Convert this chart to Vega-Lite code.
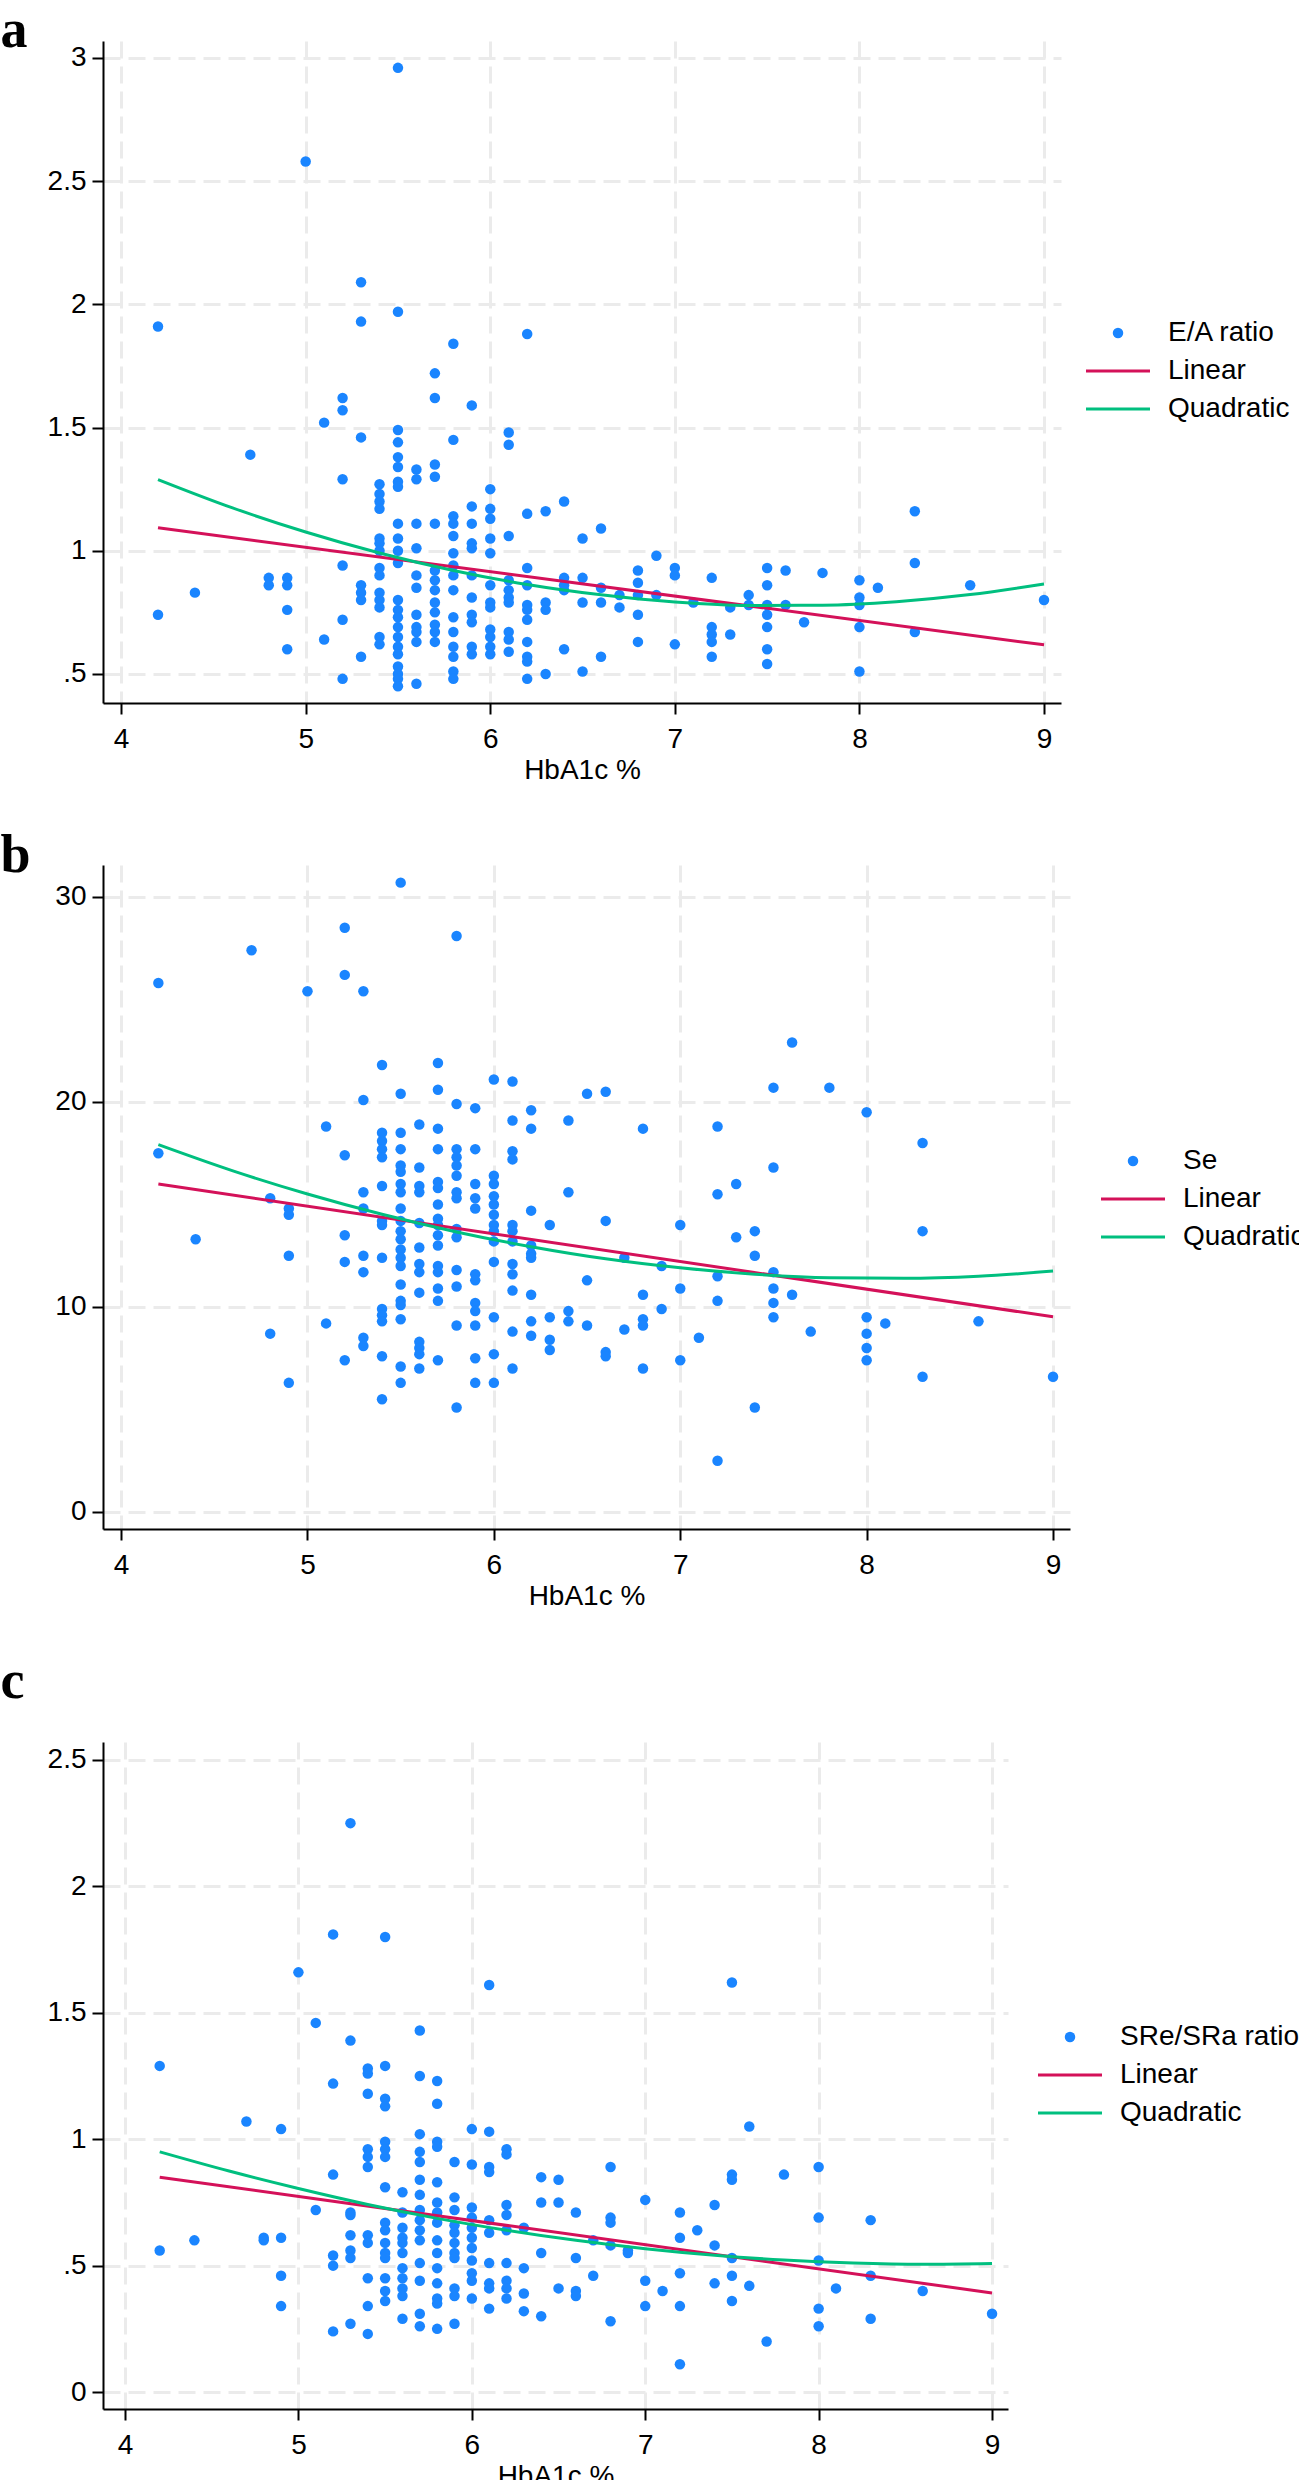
{
"$schema": "https://vega.github.io/schema/vega-lite/v6.json",
"padding": {"top": 3, "left": 0, "right": 0, "bottom": 0},
"background": "white",
"spacing": 44,
"datasets": {
"a": [
{"hba1c":4.2,"val":1.91,"series":"E/A ratio"},{"hba1c":4.2,"val":0.74,"series":"E/A ratio"},
{"hba1c":4.4,"val":0.83,"series":"E/A ratio"},
{"hba1c":4.7,"val":1.39,"series":"E/A ratio"},
{"hba1c":4.8,"val":0.89,"series":"E/A ratio"},{"hba1c":4.8,"val":0.86,"series":"E/A ratio"},
{"hba1c":4.9,"val":0.89,"series":"E/A ratio"},{"hba1c":4.9,"val":0.86,"series":"E/A ratio"},{"hba1c":4.9,"val":0.76,"series":"E/A ratio"},{"hba1c":4.9,"val":0.60,"series":"E/A ratio"},
{"hba1c":5.0,"val":2.58,"series":"E/A ratio"},
{"hba1c":5.1,"val":1.52,"series":"E/A ratio"},{"hba1c":5.1,"val":0.64,"series":"E/A ratio"},
{"hba1c":5.2,"val":1.62,"series":"E/A ratio"},{"hba1c":5.2,"val":1.57,"series":"E/A ratio"},{"hba1c":5.2,"val":1.29,"series":"E/A ratio"},{"hba1c":5.2,"val":0.94,"series":"E/A ratio"},{"hba1c":5.2,"val":0.72,"series":"E/A ratio"},{"hba1c":5.2,"val":0.48,"series":"E/A ratio"},
{"hba1c":5.3,"val":2.09,"series":"E/A ratio"},{"hba1c":5.3,"val":1.93,"series":"E/A ratio"},{"hba1c":5.3,"val":1.46,"series":"E/A ratio"},{"hba1c":5.3,"val":0.86,"series":"E/A ratio"},{"hba1c":5.3,"val":0.83,"series":"E/A ratio"},{"hba1c":5.3,"val":0.80,"series":"E/A ratio"},{"hba1c":5.3,"val":0.57,"series":"E/A ratio"},
{"hba1c":5.4,"val":1.27,"series":"E/A ratio"},{"hba1c":5.4,"val":1.23,"series":"E/A ratio"},{"hba1c":5.4,"val":1.20,"series":"E/A ratio"},{"hba1c":5.4,"val":1.17,"series":"E/A ratio"},{"hba1c":5.4,"val":1.05,"series":"E/A ratio"},{"hba1c":5.4,"val":1.03,"series":"E/A ratio"},{"hba1c":5.4,"val":1.00,"series":"E/A ratio"},{"hba1c":5.4,"val":0.93,"series":"E/A ratio"},{"hba1c":5.4,"val":0.90,"series":"E/A ratio"},{"hba1c":5.4,"val":0.83,"series":"E/A ratio"},{"hba1c":5.4,"val":0.80,"series":"E/A ratio"},{"hba1c":5.4,"val":0.77,"series":"E/A ratio"},{"hba1c":5.4,"val":0.65,"series":"E/A ratio"},{"hba1c":5.4,"val":0.62,"series":"E/A ratio"},
{"hba1c":5.5,"val":2.96,"series":"E/A ratio"},{"hba1c":5.5,"val":1.97,"series":"E/A ratio"},{"hba1c":5.5,"val":1.49,"series":"E/A ratio"},{"hba1c":5.5,"val":1.44,"series":"E/A ratio"},{"hba1c":5.5,"val":1.38,"series":"E/A ratio"},{"hba1c":5.5,"val":1.34,"series":"E/A ratio"},{"hba1c":5.5,"val":1.28,"series":"E/A ratio"},{"hba1c":5.5,"val":1.26,"series":"E/A ratio"},{"hba1c":5.5,"val":1.11,"series":"E/A ratio"},{"hba1c":5.5,"val":1.05,"series":"E/A ratio"},{"hba1c":5.5,"val":1.00,"series":"E/A ratio"},{"hba1c":5.5,"val":0.95,"series":"E/A ratio"},{"hba1c":5.5,"val":0.80,"series":"E/A ratio"},{"hba1c":5.5,"val":0.76,"series":"E/A ratio"},{"hba1c":5.5,"val":0.73,"series":"E/A ratio"},{"hba1c":5.5,"val":0.69,"series":"E/A ratio"},{"hba1c":5.5,"val":0.65,"series":"E/A ratio"},{"hba1c":5.5,"val":0.61,"series":"E/A ratio"},{"hba1c":5.5,"val":0.58,"series":"E/A ratio"},{"hba1c":5.5,"val":0.53,"series":"E/A ratio"},{"hba1c":5.5,"val":0.50,"series":"E/A ratio"},{"hba1c":5.5,"val":0.48,"series":"E/A ratio"},{"hba1c":5.5,"val":0.45,"series":"E/A ratio"},
{"hba1c":5.6,"val":1.33,"series":"E/A ratio"},{"hba1c":5.6,"val":1.29,"series":"E/A ratio"},{"hba1c":5.6,"val":1.11,"series":"E/A ratio"},{"hba1c":5.6,"val":1.01,"series":"E/A ratio"},{"hba1c":5.6,"val":0.90,"series":"E/A ratio"},{"hba1c":5.6,"val":0.85,"series":"E/A ratio"},{"hba1c":5.6,"val":0.74,"series":"E/A ratio"},{"hba1c":5.6,"val":0.69,"series":"E/A ratio"},{"hba1c":5.6,"val":0.67,"series":"E/A ratio"},{"hba1c":5.6,"val":0.63,"series":"E/A ratio"},{"hba1c":5.6,"val":0.46,"series":"E/A ratio"},
{"hba1c":5.7,"val":1.72,"series":"E/A ratio"},{"hba1c":5.7,"val":1.62,"series":"E/A ratio"},{"hba1c":5.7,"val":1.35,"series":"E/A ratio"},{"hba1c":5.7,"val":1.30,"series":"E/A ratio"},{"hba1c":5.7,"val":1.11,"series":"E/A ratio"},{"hba1c":5.7,"val":0.92,"series":"E/A ratio"},{"hba1c":5.7,"val":0.88,"series":"E/A ratio"},{"hba1c":5.7,"val":0.84,"series":"E/A ratio"},{"hba1c":5.7,"val":0.79,"series":"E/A ratio"},{"hba1c":5.7,"val":0.75,"series":"E/A ratio"},{"hba1c":5.7,"val":0.70,"series":"E/A ratio"},{"hba1c":5.7,"val":0.67,"series":"E/A ratio"},{"hba1c":5.7,"val":0.63,"series":"E/A ratio"},
{"hba1c":5.8,"val":1.84,"series":"E/A ratio"},{"hba1c":5.8,"val":1.45,"series":"E/A ratio"},{"hba1c":5.8,"val":1.14,"series":"E/A ratio"},{"hba1c":5.8,"val":1.11,"series":"E/A ratio"},{"hba1c":5.8,"val":1.06,"series":"E/A ratio"},{"hba1c":5.8,"val":0.99,"series":"E/A ratio"},{"hba1c":5.8,"val":0.94,"series":"E/A ratio"},{"hba1c":5.8,"val":0.90,"series":"E/A ratio"},{"hba1c":5.8,"val":0.84,"series":"E/A ratio"},{"hba1c":5.8,"val":0.73,"series":"E/A ratio"},{"hba1c":5.8,"val":0.67,"series":"E/A ratio"},{"hba1c":5.8,"val":0.61,"series":"E/A ratio"},{"hba1c":5.8,"val":0.57,"series":"E/A ratio"},{"hba1c":5.8,"val":0.51,"series":"E/A ratio"},{"hba1c":5.8,"val":0.48,"series":"E/A ratio"},
{"hba1c":5.9,"val":1.59,"series":"E/A ratio"},{"hba1c":5.9,"val":1.18,"series":"E/A ratio"},{"hba1c":5.9,"val":1.11,"series":"E/A ratio"},{"hba1c":5.9,"val":1.03,"series":"E/A ratio"},{"hba1c":5.9,"val":1.01,"series":"E/A ratio"},{"hba1c":5.9,"val":0.90,"series":"E/A ratio"},{"hba1c":5.9,"val":0.81,"series":"E/A ratio"},{"hba1c":5.9,"val":0.74,"series":"E/A ratio"},{"hba1c":5.9,"val":0.71,"series":"E/A ratio"},{"hba1c":5.9,"val":0.61,"series":"E/A ratio"},{"hba1c":5.9,"val":0.58,"series":"E/A ratio"},
{"hba1c":6.0,"val":1.25,"series":"E/A ratio"},{"hba1c":6.0,"val":1.17,"series":"E/A ratio"},{"hba1c":6.0,"val":1.13,"series":"E/A ratio"},{"hba1c":6.0,"val":1.05,"series":"E/A ratio"},{"hba1c":6.0,"val":0.99,"series":"E/A ratio"},{"hba1c":6.0,"val":0.86,"series":"E/A ratio"},{"hba1c":6.0,"val":0.79,"series":"E/A ratio"},{"hba1c":6.0,"val":0.77,"series":"E/A ratio"},{"hba1c":6.0,"val":0.68,"series":"E/A ratio"},{"hba1c":6.0,"val":0.65,"series":"E/A ratio"},{"hba1c":6.0,"val":0.61,"series":"E/A ratio"},{"hba1c":6.0,"val":0.58,"series":"E/A ratio"},
{"hba1c":6.1,"val":1.48,"series":"E/A ratio"},{"hba1c":6.1,"val":1.43,"series":"E/A ratio"},{"hba1c":6.1,"val":1.06,"series":"E/A ratio"},{"hba1c":6.1,"val":0.88,"series":"E/A ratio"},{"hba1c":6.1,"val":0.84,"series":"E/A ratio"},{"hba1c":6.1,"val":0.81,"series":"E/A ratio"},{"hba1c":6.1,"val":0.79,"series":"E/A ratio"},{"hba1c":6.1,"val":0.67,"series":"E/A ratio"},{"hba1c":6.1,"val":0.64,"series":"E/A ratio"},{"hba1c":6.1,"val":0.59,"series":"E/A ratio"},
{"hba1c":6.2,"val":1.88,"series":"E/A ratio"},{"hba1c":6.2,"val":1.15,"series":"E/A ratio"},{"hba1c":6.2,"val":0.93,"series":"E/A ratio"},{"hba1c":6.2,"val":0.86,"series":"E/A ratio"},{"hba1c":6.2,"val":0.78,"series":"E/A ratio"},{"hba1c":6.2,"val":0.76,"series":"E/A ratio"},{"hba1c":6.2,"val":0.72,"series":"E/A ratio"},{"hba1c":6.2,"val":0.63,"series":"E/A ratio"},{"hba1c":6.2,"val":0.57,"series":"E/A ratio"},{"hba1c":6.2,"val":0.55,"series":"E/A ratio"},{"hba1c":6.2,"val":0.48,"series":"E/A ratio"},
{"hba1c":6.3,"val":1.16,"series":"E/A ratio"},{"hba1c":6.3,"val":0.79,"series":"E/A ratio"},{"hba1c":6.3,"val":0.76,"series":"E/A ratio"},{"hba1c":6.3,"val":0.50,"series":"E/A ratio"},
{"hba1c":6.4,"val":1.20,"series":"E/A ratio"},{"hba1c":6.4,"val":0.89,"series":"E/A ratio"},{"hba1c":6.4,"val":0.86,"series":"E/A ratio"},{"hba1c":6.4,"val":0.84,"series":"E/A ratio"},{"hba1c":6.4,"val":0.60,"series":"E/A ratio"},
{"hba1c":6.5,"val":1.05,"series":"E/A ratio"},{"hba1c":6.5,"val":0.89,"series":"E/A ratio"},{"hba1c":6.5,"val":0.79,"series":"E/A ratio"},{"hba1c":6.5,"val":0.51,"series":"E/A ratio"},
{"hba1c":6.6,"val":1.09,"series":"E/A ratio"},{"hba1c":6.6,"val":0.85,"series":"E/A ratio"},{"hba1c":6.6,"val":0.79,"series":"E/A ratio"},{"hba1c":6.6,"val":0.57,"series":"E/A ratio"},
{"hba1c":6.7,"val":0.82,"series":"E/A ratio"},{"hba1c":6.7,"val":0.77,"series":"E/A ratio"},
{"hba1c":6.8,"val":0.92,"series":"E/A ratio"},{"hba1c":6.8,"val":0.87,"series":"E/A ratio"},{"hba1c":6.8,"val":0.82,"series":"E/A ratio"},{"hba1c":6.8,"val":0.74,"series":"E/A ratio"},{"hba1c":6.8,"val":0.63,"series":"E/A ratio"},
{"hba1c":6.9,"val":0.98,"series":"E/A ratio"},{"hba1c":6.9,"val":0.82,"series":"E/A ratio"},
{"hba1c":7.0,"val":0.93,"series":"E/A ratio"},{"hba1c":7.0,"val":0.90,"series":"E/A ratio"},{"hba1c":7.0,"val":0.62,"series":"E/A ratio"},
{"hba1c":7.1,"val":0.79,"series":"E/A ratio"},
{"hba1c":7.2,"val":0.89,"series":"E/A ratio"},{"hba1c":7.2,"val":0.69,"series":"E/A ratio"},{"hba1c":7.2,"val":0.66,"series":"E/A ratio"},{"hba1c":7.2,"val":0.63,"series":"E/A ratio"},{"hba1c":7.2,"val":0.57,"series":"E/A ratio"},
{"hba1c":7.3,"val":0.77,"series":"E/A ratio"},{"hba1c":7.3,"val":0.66,"series":"E/A ratio"},
{"hba1c":7.4,"val":0.82,"series":"E/A ratio"},{"hba1c":7.4,"val":0.78,"series":"E/A ratio"},
{"hba1c":7.5,"val":0.93,"series":"E/A ratio"},{"hba1c":7.5,"val":0.86,"series":"E/A ratio"},{"hba1c":7.5,"val":0.78,"series":"E/A ratio"},{"hba1c":7.5,"val":0.74,"series":"E/A ratio"},{"hba1c":7.5,"val":0.69,"series":"E/A ratio"},{"hba1c":7.5,"val":0.60,"series":"E/A ratio"},{"hba1c":7.5,"val":0.54,"series":"E/A ratio"},
{"hba1c":7.6,"val":0.92,"series":"E/A ratio"},{"hba1c":7.6,"val":0.78,"series":"E/A ratio"},
{"hba1c":7.7,"val":0.71,"series":"E/A ratio"},
{"hba1c":7.8,"val":0.91,"series":"E/A ratio"},
{"hba1c":8.0,"val":0.88,"series":"E/A ratio"},{"hba1c":8.0,"val":0.81,"series":"E/A ratio"},{"hba1c":8.0,"val":0.78,"series":"E/A ratio"},{"hba1c":8.0,"val":0.69,"series":"E/A ratio"},{"hba1c":8.0,"val":0.51,"series":"E/A ratio"},
{"hba1c":8.1,"val":0.85,"series":"E/A ratio"},
{"hba1c":8.3,"val":1.16,"series":"E/A ratio"},{"hba1c":8.3,"val":0.95,"series":"E/A ratio"},{"hba1c":8.3,"val":0.67,"series":"E/A ratio"},
{"hba1c":8.6,"val":0.86,"series":"E/A ratio"},
{"hba1c":9.0,"val":0.80,"series":"E/A ratio"},
{"hba1c":4.2,"val":1.093,"series":"Linear"},{"hba1c":9.0,"val":0.618,"series":"Linear"},
{"hba1c":4.2,"val":1.289,"series":"Quadratic"},{"hba1c":4.6,"val":1.175,"series":"Quadratic"},{"hba1c":5.0,"val":1.076,"series":"Quadratic"},{"hba1c":5.4,"val":0.991,"series":"Quadratic"},{"hba1c":5.8,"val":0.920,"series":"Quadratic"},{"hba1c":6.2,"val":0.863,"series":"Quadratic"},{"hba1c":6.6,"val":0.821,"series":"Quadratic"},{"hba1c":7.0,"val":0.792,"series":"Quadratic"},{"hba1c":7.4,"val":0.778,"series":"Quadratic"},{"hba1c":7.8,"val":0.779,"series":"Quadratic"},{"hba1c":8.2,"val":0.793,"series":"Quadratic"},{"hba1c":8.6,"val":0.822,"series":"Quadratic"},{"hba1c":9.0,"val":0.865,"series":"Quadratic"}
],
"b": [
{"hba1c":4.2,"val":25.8,"series":"Se"},{"hba1c":4.2,"val":17.5,"series":"Se"},
{"hba1c":4.4,"val":13.3,"series":"Se"},
{"hba1c":4.7,"val":27.4,"series":"Se"},
{"hba1c":4.8,"val":15.3,"series":"Se"},{"hba1c":4.8,"val":8.7,"series":"Se"},
{"hba1c":4.9,"val":14.8,"series":"Se"},{"hba1c":4.9,"val":14.5,"series":"Se"},{"hba1c":4.9,"val":12.5,"series":"Se"},{"hba1c":4.9,"val":6.3,"series":"Se"},
{"hba1c":5.0,"val":25.4,"series":"Se"},
{"hba1c":5.1,"val":18.8,"series":"Se"},{"hba1c":5.1,"val":9.2,"series":"Se"},
{"hba1c":5.2,"val":28.5,"series":"Se"},{"hba1c":5.2,"val":26.2,"series":"Se"},{"hba1c":5.2,"val":17.4,"series":"Se"},{"hba1c":5.2,"val":13.5,"series":"Se"},{"hba1c":5.2,"val":12.2,"series":"Se"},{"hba1c":5.2,"val":7.4,"series":"Se"},
{"hba1c":5.3,"val":25.4,"series":"Se"},{"hba1c":5.3,"val":20.1,"series":"Se"},{"hba1c":5.3,"val":15.6,"series":"Se"},{"hba1c":5.3,"val":14.8,"series":"Se"},{"hba1c":5.3,"val":12.5,"series":"Se"},{"hba1c":5.3,"val":11.7,"series":"Se"},{"hba1c":5.3,"val":8.5,"series":"Se"},{"hba1c":5.3,"val":8.1,"series":"Se"},
{"hba1c":5.4,"val":21.8,"series":"Se"},{"hba1c":5.4,"val":18.5,"series":"Se"},{"hba1c":5.4,"val":18.1,"series":"Se"},{"hba1c":5.4,"val":17.7,"series":"Se"},{"hba1c":5.4,"val":17.3,"series":"Se"},{"hba1c":5.4,"val":15.9,"series":"Se"},{"hba1c":5.4,"val":14.2,"series":"Se"},{"hba1c":5.4,"val":14.0,"series":"Se"},{"hba1c":5.4,"val":12.4,"series":"Se"},{"hba1c":5.4,"val":9.9,"series":"Se"},{"hba1c":5.4,"val":9.6,"series":"Se"},{"hba1c":5.4,"val":9.3,"series":"Se"},{"hba1c":5.4,"val":7.6,"series":"Se"},{"hba1c":5.4,"val":5.5,"series":"Se"},
{"hba1c":5.5,"val":30.7,"series":"Se"},{"hba1c":5.5,"val":20.4,"series":"Se"},{"hba1c":5.5,"val":18.5,"series":"Se"},{"hba1c":5.5,"val":17.7,"series":"Se"},{"hba1c":5.5,"val":16.9,"series":"Se"},{"hba1c":5.5,"val":16.6,"series":"Se"},{"hba1c":5.5,"val":16.0,"series":"Se"},{"hba1c":5.5,"val":15.6,"series":"Se"},{"hba1c":5.5,"val":14.8,"series":"Se"},{"hba1c":5.5,"val":14.2,"series":"Se"},{"hba1c":5.5,"val":13.7,"series":"Se"},{"hba1c":5.5,"val":13.3,"series":"Se"},{"hba1c":5.5,"val":12.8,"series":"Se"},{"hba1c":5.5,"val":12.4,"series":"Se"},{"hba1c":5.5,"val":12.0,"series":"Se"},{"hba1c":5.5,"val":11.1,"series":"Se"},{"hba1c":5.5,"val":10.3,"series":"Se"},{"hba1c":5.5,"val":10.1,"series":"Se"},{"hba1c":5.5,"val":9.4,"series":"Se"},{"hba1c":5.5,"val":7.1,"series":"Se"},{"hba1c":5.5,"val":6.3,"series":"Se"},
{"hba1c":5.6,"val":18.9,"series":"Se"},{"hba1c":5.6,"val":16.8,"series":"Se"},{"hba1c":5.6,"val":15.9,"series":"Se"},{"hba1c":5.6,"val":15.6,"series":"Se"},{"hba1c":5.6,"val":14.1,"series":"Se"},{"hba1c":5.6,"val":12.9,"series":"Se"},{"hba1c":5.6,"val":12.1,"series":"Se"},{"hba1c":5.6,"val":11.7,"series":"Se"},{"hba1c":5.6,"val":10.7,"series":"Se"},{"hba1c":5.6,"val":8.3,"series":"Se"},{"hba1c":5.6,"val":8.0,"series":"Se"},{"hba1c":5.6,"val":7.7,"series":"Se"},{"hba1c":5.6,"val":7.0,"series":"Se"},
{"hba1c":5.7,"val":21.9,"series":"Se"},{"hba1c":5.7,"val":20.6,"series":"Se"},{"hba1c":5.7,"val":18.7,"series":"Se"},{"hba1c":5.7,"val":17.7,"series":"Se"},{"hba1c":5.7,"val":16.1,"series":"Se"},{"hba1c":5.7,"val":15.8,"series":"Se"},{"hba1c":5.7,"val":15.0,"series":"Se"},{"hba1c":5.7,"val":14.3,"series":"Se"},{"hba1c":5.7,"val":14.0,"series":"Se"},{"hba1c":5.7,"val":13.5,"series":"Se"},{"hba1c":5.7,"val":13.0,"series":"Se"},{"hba1c":5.7,"val":12.0,"series":"Se"},{"hba1c":5.7,"val":11.7,"series":"Se"},{"hba1c":5.7,"val":10.9,"series":"Se"},{"hba1c":5.7,"val":10.3,"series":"Se"},{"hba1c":5.7,"val":7.4,"series":"Se"},
{"hba1c":5.8,"val":28.1,"series":"Se"},{"hba1c":5.8,"val":19.9,"series":"Se"},{"hba1c":5.8,"val":17.7,"series":"Se"},{"hba1c":5.8,"val":17.3,"series":"Se"},{"hba1c":5.8,"val":16.9,"series":"Se"},{"hba1c":5.8,"val":16.4,"series":"Se"},{"hba1c":5.8,"val":15.6,"series":"Se"},{"hba1c":5.8,"val":15.3,"series":"Se"},{"hba1c":5.8,"val":13.8,"series":"Se"},{"hba1c":5.8,"val":13.4,"series":"Se"},{"hba1c":5.8,"val":11.8,"series":"Se"},{"hba1c":5.8,"val":11.0,"series":"Se"},{"hba1c":5.8,"val":9.1,"series":"Se"},{"hba1c":5.8,"val":5.1,"series":"Se"},
{"hba1c":5.9,"val":19.7,"series":"Se"},{"hba1c":5.9,"val":17.7,"series":"Se"},{"hba1c":5.9,"val":16.0,"series":"Se"},{"hba1c":5.9,"val":15.3,"series":"Se"},{"hba1c":5.9,"val":14.8,"series":"Se"},{"hba1c":5.9,"val":11.6,"series":"Se"},{"hba1c":5.9,"val":11.3,"series":"Se"},{"hba1c":5.9,"val":10.2,"series":"Se"},{"hba1c":5.9,"val":9.8,"series":"Se"},{"hba1c":5.9,"val":9.1,"series":"Se"},{"hba1c":5.9,"val":7.5,"series":"Se"},{"hba1c":5.9,"val":6.3,"series":"Se"},
{"hba1c":6.0,"val":21.1,"series":"Se"},{"hba1c":6.0,"val":16.4,"series":"Se"},{"hba1c":6.0,"val":16.0,"series":"Se"},{"hba1c":6.0,"val":15.4,"series":"Se"},{"hba1c":6.0,"val":15.0,"series":"Se"},{"hba1c":6.0,"val":14.5,"series":"Se"},{"hba1c":6.0,"val":14.0,"series":"Se"},{"hba1c":6.0,"val":13.7,"series":"Se"},{"hba1c":6.0,"val":13.2,"series":"Se"},{"hba1c":6.0,"val":12.2,"series":"Se"},{"hba1c":6.0,"val":9.5,"series":"Se"},{"hba1c":6.0,"val":7.7,"series":"Se"},{"hba1c":6.0,"val":6.3,"series":"Se"},
{"hba1c":6.1,"val":21.0,"series":"Se"},{"hba1c":6.1,"val":19.1,"series":"Se"},{"hba1c":6.1,"val":17.6,"series":"Se"},{"hba1c":6.1,"val":17.2,"series":"Se"},{"hba1c":6.1,"val":14.0,"series":"Se"},{"hba1c":6.1,"val":13.7,"series":"Se"},{"hba1c":6.1,"val":13.2,"series":"Se"},{"hba1c":6.1,"val":12.1,"series":"Se"},{"hba1c":6.1,"val":11.6,"series":"Se"},{"hba1c":6.1,"val":10.8,"series":"Se"},{"hba1c":6.1,"val":8.8,"series":"Se"},{"hba1c":6.1,"val":7.0,"series":"Se"},
{"hba1c":6.2,"val":19.6,"series":"Se"},{"hba1c":6.2,"val":18.7,"series":"Se"},{"hba1c":6.2,"val":14.7,"series":"Se"},{"hba1c":6.2,"val":13.0,"series":"Se"},{"hba1c":6.2,"val":12.6,"series":"Se"},{"hba1c":6.2,"val":12.4,"series":"Se"},{"hba1c":6.2,"val":10.6,"series":"Se"},{"hba1c":6.2,"val":9.3,"series":"Se"},{"hba1c":6.2,"val":8.6,"series":"Se"},
{"hba1c":6.3,"val":14.0,"series":"Se"},{"hba1c":6.3,"val":9.5,"series":"Se"},{"hba1c":6.3,"val":8.4,"series":"Se"},{"hba1c":6.3,"val":7.9,"series":"Se"},
{"hba1c":6.4,"val":19.1,"series":"Se"},{"hba1c":6.4,"val":15.6,"series":"Se"},{"hba1c":6.4,"val":9.8,"series":"Se"},{"hba1c":6.4,"val":9.3,"series":"Se"},
{"hba1c":6.5,"val":20.4,"series":"Se"},{"hba1c":6.5,"val":11.3,"series":"Se"},{"hba1c":6.5,"val":9.1,"series":"Se"},
{"hba1c":6.6,"val":20.5,"series":"Se"},{"hba1c":6.6,"val":14.2,"series":"Se"},{"hba1c":6.6,"val":7.8,"series":"Se"},{"hba1c":6.6,"val":7.6,"series":"Se"},
{"hba1c":6.7,"val":12.4,"series":"Se"},{"hba1c":6.7,"val":8.9,"series":"Se"},
{"hba1c":6.8,"val":18.7,"series":"Se"},{"hba1c":6.8,"val":10.6,"series":"Se"},{"hba1c":6.8,"val":9.4,"series":"Se"},{"hba1c":6.8,"val":9.1,"series":"Se"},{"hba1c":6.8,"val":7.0,"series":"Se"},
{"hba1c":6.9,"val":12.0,"series":"Se"},{"hba1c":6.9,"val":9.9,"series":"Se"},
{"hba1c":7.0,"val":14.0,"series":"Se"},{"hba1c":7.0,"val":10.9,"series":"Se"},{"hba1c":7.0,"val":7.4,"series":"Se"},
{"hba1c":7.1,"val":8.5,"series":"Se"},
{"hba1c":7.2,"val":18.8,"series":"Se"},{"hba1c":7.2,"val":15.5,"series":"Se"},{"hba1c":7.2,"val":11.5,"series":"Se"},{"hba1c":7.2,"val":10.3,"series":"Se"},{"hba1c":7.2,"val":2.5,"series":"Se"},
{"hba1c":7.3,"val":16.0,"series":"Se"},{"hba1c":7.3,"val":13.4,"series":"Se"},
{"hba1c":7.4,"val":13.7,"series":"Se"},{"hba1c":7.4,"val":12.5,"series":"Se"},{"hba1c":7.4,"val":5.1,"series":"Se"},
{"hba1c":7.5,"val":20.7,"series":"Se"},{"hba1c":7.5,"val":16.8,"series":"Se"},{"hba1c":7.5,"val":11.7,"series":"Se"},{"hba1c":7.5,"val":10.9,"series":"Se"},{"hba1c":7.5,"val":10.2,"series":"Se"},{"hba1c":7.5,"val":9.5,"series":"Se"},
{"hba1c":7.6,"val":22.9,"series":"Se"},{"hba1c":7.6,"val":10.6,"series":"Se"},
{"hba1c":7.7,"val":8.8,"series":"Se"},
{"hba1c":7.8,"val":20.7,"series":"Se"},
{"hba1c":8.0,"val":19.5,"series":"Se"},{"hba1c":8.0,"val":9.5,"series":"Se"},{"hba1c":8.0,"val":8.7,"series":"Se"},{"hba1c":8.0,"val":8.0,"series":"Se"},{"hba1c":8.0,"val":7.4,"series":"Se"},
{"hba1c":8.1,"val":9.2,"series":"Se"},
{"hba1c":8.3,"val":18.0,"series":"Se"},{"hba1c":8.3,"val":13.7,"series":"Se"},{"hba1c":8.3,"val":6.6,"series":"Se"},
{"hba1c":8.6,"val":9.3,"series":"Se"},
{"hba1c":9.0,"val":6.6,"series":"Se"},
{"hba1c":4.2,"val":16.0,"series":"Linear"},{"hba1c":9.0,"val":9.52,"series":"Linear"},
{"hba1c":4.2,"val":17.92,"series":"Quadratic"},{"hba1c":4.6,"val":16.64,"series":"Quadratic"},{"hba1c":5.0,"val":15.51,"series":"Quadratic"},{"hba1c":5.4,"val":14.52,"series":"Quadratic"},{"hba1c":5.8,"val":13.66,"series":"Quadratic"},{"hba1c":6.2,"val":12.94,"series":"Quadratic"},{"hba1c":6.6,"val":12.35,"series":"Quadratic"},{"hba1c":7.0,"val":11.91,"series":"Quadratic"},{"hba1c":7.4,"val":11.60,"series":"Quadratic"},{"hba1c":7.8,"val":11.43,"series":"Quadratic"},{"hba1c":8.2,"val":11.40,"series":"Quadratic"},{"hba1c":8.6,"val":11.50,"series":"Quadratic"},{"hba1c":9.0,"val":11.75,"series":"Quadratic"}
],
"c": [
{"hba1c":4.2,"val":1.29,"series":"SRe/SRa ratio"},{"hba1c":4.2,"val":0.56,"series":"SRe/SRa ratio"},
{"hba1c":4.4,"val":0.60,"series":"SRe/SRa ratio"},
{"hba1c":4.7,"val":1.07,"series":"SRe/SRa ratio"},
{"hba1c":4.8,"val":0.61,"series":"SRe/SRa ratio"},{"hba1c":4.8,"val":0.60,"series":"SRe/SRa ratio"},
{"hba1c":4.9,"val":1.04,"series":"SRe/SRa ratio"},{"hba1c":4.9,"val":0.61,"series":"SRe/SRa ratio"},{"hba1c":4.9,"val":0.46,"series":"SRe/SRa ratio"},{"hba1c":4.9,"val":0.34,"series":"SRe/SRa ratio"},
{"hba1c":5.0,"val":1.66,"series":"SRe/SRa ratio"},
{"hba1c":5.1,"val":1.46,"series":"SRe/SRa ratio"},{"hba1c":5.1,"val":0.72,"series":"SRe/SRa ratio"},
{"hba1c":5.2,"val":1.81,"series":"SRe/SRa ratio"},{"hba1c":5.2,"val":1.22,"series":"SRe/SRa ratio"},{"hba1c":5.2,"val":0.86,"series":"SRe/SRa ratio"},{"hba1c":5.2,"val":0.54,"series":"SRe/SRa ratio"},{"hba1c":5.2,"val":0.50,"series":"SRe/SRa ratio"},{"hba1c":5.2,"val":0.24,"series":"SRe/SRa ratio"},
{"hba1c":5.3,"val":2.25,"series":"SRe/SRa ratio"},{"hba1c":5.3,"val":1.39,"series":"SRe/SRa ratio"},{"hba1c":5.3,"val":0.71,"series":"SRe/SRa ratio"},{"hba1c":5.3,"val":0.70,"series":"SRe/SRa ratio"},{"hba1c":5.3,"val":0.62,"series":"SRe/SRa ratio"},{"hba1c":5.3,"val":0.56,"series":"SRe/SRa ratio"},{"hba1c":5.3,"val":0.53,"series":"SRe/SRa ratio"},{"hba1c":5.3,"val":0.27,"series":"SRe/SRa ratio"},
{"hba1c":5.4,"val":1.28,"series":"SRe/SRa ratio"},{"hba1c":5.4,"val":1.26,"series":"SRe/SRa ratio"},{"hba1c":5.4,"val":1.18,"series":"SRe/SRa ratio"},{"hba1c":5.4,"val":0.96,"series":"SRe/SRa ratio"},{"hba1c":5.4,"val":0.93,"series":"SRe/SRa ratio"},{"hba1c":5.4,"val":0.89,"series":"SRe/SRa ratio"},{"hba1c":5.4,"val":0.62,"series":"SRe/SRa ratio"},{"hba1c":5.4,"val":0.59,"series":"SRe/SRa ratio"},{"hba1c":5.4,"val":0.45,"series":"SRe/SRa ratio"},{"hba1c":5.4,"val":0.34,"series":"SRe/SRa ratio"},{"hba1c":5.4,"val":0.23,"series":"SRe/SRa ratio"},
{"hba1c":5.5,"val":1.80,"series":"SRe/SRa ratio"},{"hba1c":5.5,"val":1.29,"series":"SRe/SRa ratio"},{"hba1c":5.5,"val":1.16,"series":"SRe/SRa ratio"},{"hba1c":5.5,"val":1.13,"series":"SRe/SRa ratio"},{"hba1c":5.5,"val":0.99,"series":"SRe/SRa ratio"},{"hba1c":5.5,"val":0.96,"series":"SRe/SRa ratio"},{"hba1c":5.5,"val":0.93,"series":"SRe/SRa ratio"},{"hba1c":5.5,"val":0.81,"series":"SRe/SRa ratio"},{"hba1c":5.5,"val":0.67,"series":"SRe/SRa ratio"},{"hba1c":5.5,"val":0.64,"series":"SRe/SRa ratio"},{"hba1c":5.5,"val":0.59,"series":"SRe/SRa ratio"},{"hba1c":5.5,"val":0.55,"series":"SRe/SRa ratio"},{"hba1c":5.5,"val":0.53,"series":"SRe/SRa ratio"},{"hba1c":5.5,"val":0.45,"series":"SRe/SRa ratio"},{"hba1c":5.5,"val":0.40,"series":"SRe/SRa ratio"},{"hba1c":5.5,"val":0.36,"series":"SRe/SRa ratio"},
{"hba1c":5.6,"val":0.79,"series":"SRe/SRa ratio"},{"hba1c":5.6,"val":0.71,"series":"SRe/SRa ratio"},{"hba1c":5.6,"val":0.65,"series":"SRe/SRa ratio"},{"hba1c":5.6,"val":0.61,"series":"SRe/SRa ratio"},{"hba1c":5.6,"val":0.59,"series":"SRe/SRa ratio"},{"hba1c":5.6,"val":0.55,"series":"SRe/SRa ratio"},{"hba1c":5.6,"val":0.49,"series":"SRe/SRa ratio"},{"hba1c":5.6,"val":0.45,"series":"SRe/SRa ratio"},{"hba1c":5.6,"val":0.41,"series":"SRe/SRa ratio"},{"hba1c":5.6,"val":0.38,"series":"SRe/SRa ratio"},{"hba1c":5.6,"val":0.29,"series":"SRe/SRa ratio"},
{"hba1c":5.7,"val":1.43,"series":"SRe/SRa ratio"},{"hba1c":5.7,"val":1.25,"series":"SRe/SRa ratio"},{"hba1c":5.7,"val":1.02,"series":"SRe/SRa ratio"},{"hba1c":5.7,"val":0.95,"series":"SRe/SRa ratio"},{"hba1c":5.7,"val":0.91,"series":"SRe/SRa ratio"},{"hba1c":5.7,"val":0.84,"series":"SRe/SRa ratio"},{"hba1c":5.7,"val":0.78,"series":"SRe/SRa ratio"},{"hba1c":5.7,"val":0.72,"series":"SRe/SRa ratio"},{"hba1c":5.7,"val":0.68,"series":"SRe/SRa ratio"},{"hba1c":5.7,"val":0.64,"series":"SRe/SRa ratio"},{"hba1c":5.7,"val":0.60,"series":"SRe/SRa ratio"},{"hba1c":5.7,"val":0.51,"series":"SRe/SRa ratio"},{"hba1c":5.7,"val":0.44,"series":"SRe/SRa ratio"},{"hba1c":5.7,"val":0.31,"series":"SRe/SRa ratio"},{"hba1c":5.7,"val":0.26,"series":"SRe/SRa ratio"},
{"hba1c":5.8,"val":1.23,"series":"SRe/SRa ratio"},{"hba1c":5.8,"val":1.14,"series":"SRe/SRa ratio"},{"hba1c":5.8,"val":0.99,"series":"SRe/SRa ratio"},{"hba1c":5.8,"val":0.97,"series":"SRe/SRa ratio"},{"hba1c":5.8,"val":0.83,"series":"SRe/SRa ratio"},{"hba1c":5.8,"val":0.75,"series":"SRe/SRa ratio"},{"hba1c":5.8,"val":0.71,"series":"SRe/SRa ratio"},{"hba1c":5.8,"val":0.67,"series":"SRe/SRa ratio"},{"hba1c":5.8,"val":0.60,"series":"SRe/SRa ratio"},{"hba1c":5.8,"val":0.55,"series":"SRe/SRa ratio"},{"hba1c":5.8,"val":0.49,"series":"SRe/SRa ratio"},{"hba1c":5.8,"val":0.43,"series":"SRe/SRa ratio"},{"hba1c":5.8,"val":0.37,"series":"SRe/SRa ratio"},{"hba1c":5.8,"val":0.35,"series":"SRe/SRa ratio"},{"hba1c":5.8,"val":0.25,"series":"SRe/SRa ratio"},
{"hba1c":5.9,"val":0.91,"series":"SRe/SRa ratio"},{"hba1c":5.9,"val":0.77,"series":"SRe/SRa ratio"},{"hba1c":5.9,"val":0.72,"series":"SRe/SRa ratio"},{"hba1c":5.9,"val":0.66,"series":"SRe/SRa ratio"},{"hba1c":5.9,"val":0.63,"series":"SRe/SRa ratio"},{"hba1c":5.9,"val":0.59,"series":"SRe/SRa ratio"},{"hba1c":5.9,"val":0.55,"series":"SRe/SRa ratio"},{"hba1c":5.9,"val":0.53,"series":"SRe/SRa ratio"},{"hba1c":5.9,"val":0.41,"series":"SRe/SRa ratio"},{"hba1c":5.9,"val":0.38,"series":"SRe/SRa ratio"},{"hba1c":5.9,"val":0.27,"series":"SRe/SRa ratio"},
{"hba1c":6.0,"val":1.04,"series":"SRe/SRa ratio"},{"hba1c":6.0,"val":0.90,"series":"SRe/SRa ratio"},{"hba1c":6.0,"val":0.73,"series":"SRe/SRa ratio"},{"hba1c":6.0,"val":0.69,"series":"SRe/SRa ratio"},{"hba1c":6.0,"val":0.65,"series":"SRe/SRa ratio"},{"hba1c":6.0,"val":0.61,"series":"SRe/SRa ratio"},{"hba1c":6.0,"val":0.57,"series":"SRe/SRa ratio"},{"hba1c":6.0,"val":0.52,"series":"SRe/SRa ratio"},{"hba1c":6.0,"val":0.47,"series":"SRe/SRa ratio"},{"hba1c":6.0,"val":0.44,"series":"SRe/SRa ratio"},{"hba1c":6.0,"val":0.37,"series":"SRe/SRa ratio"},
{"hba1c":6.1,"val":1.61,"series":"SRe/SRa ratio"},{"hba1c":6.1,"val":1.03,"series":"SRe/SRa ratio"},{"hba1c":6.1,"val":0.89,"series":"SRe/SRa ratio"},{"hba1c":6.1,"val":0.87,"series":"SRe/SRa ratio"},{"hba1c":6.1,"val":0.68,"series":"SRe/SRa ratio"},{"hba1c":6.1,"val":0.63,"series":"SRe/SRa ratio"},{"hba1c":6.1,"val":0.51,"series":"SRe/SRa ratio"},{"hba1c":6.1,"val":0.43,"series":"SRe/SRa ratio"},{"hba1c":6.1,"val":0.41,"series":"SRe/SRa ratio"},{"hba1c":6.1,"val":0.33,"series":"SRe/SRa ratio"},
{"hba1c":6.2,"val":0.96,"series":"SRe/SRa ratio"},{"hba1c":6.2,"val":0.94,"series":"SRe/SRa ratio"},{"hba1c":6.2,"val":0.74,"series":"SRe/SRa ratio"},{"hba1c":6.2,"val":0.70,"series":"SRe/SRa ratio"},{"hba1c":6.2,"val":0.64,"series":"SRe/SRa ratio"},{"hba1c":6.2,"val":0.51,"series":"SRe/SRa ratio"},{"hba1c":6.2,"val":0.44,"series":"SRe/SRa ratio"},{"hba1c":6.2,"val":0.41,"series":"SRe/SRa ratio"},{"hba1c":6.2,"val":0.37,"series":"SRe/SRa ratio"},
{"hba1c":6.3,"val":0.65,"series":"SRe/SRa ratio"},{"hba1c":6.3,"val":0.49,"series":"SRe/SRa ratio"},{"hba1c":6.3,"val":0.39,"series":"SRe/SRa ratio"},{"hba1c":6.3,"val":0.32,"series":"SRe/SRa ratio"},
{"hba1c":6.4,"val":0.85,"series":"SRe/SRa ratio"},{"hba1c":6.4,"val":0.75,"series":"SRe/SRa ratio"},{"hba1c":6.4,"val":0.55,"series":"SRe/SRa ratio"},{"hba1c":6.4,"val":0.30,"series":"SRe/SRa ratio"},
{"hba1c":6.5,"val":0.84,"series":"SRe/SRa ratio"},{"hba1c":6.5,"val":0.75,"series":"SRe/SRa ratio"},{"hba1c":6.5,"val":0.41,"series":"SRe/SRa ratio"},
{"hba1c":6.6,"val":0.71,"series":"SRe/SRa ratio"},{"hba1c":6.6,"val":0.53,"series":"SRe/SRa ratio"},{"hba1c":6.6,"val":0.40,"series":"SRe/SRa ratio"},{"hba1c":6.6,"val":0.38,"series":"SRe/SRa ratio"},
{"hba1c":6.7,"val":0.60,"series":"SRe/SRa ratio"},{"hba1c":6.7,"val":0.46,"series":"SRe/SRa ratio"},
{"hba1c":6.8,"val":0.89,"series":"SRe/SRa ratio"},{"hba1c":6.8,"val":0.69,"series":"SRe/SRa ratio"},{"hba1c":6.8,"val":0.67,"series":"SRe/SRa ratio"},{"hba1c":6.8,"val":0.58,"series":"SRe/SRa ratio"},{"hba1c":6.8,"val":0.28,"series":"SRe/SRa ratio"},
{"hba1c":6.9,"val":0.56,"series":"SRe/SRa ratio"},{"hba1c":6.9,"val":0.55,"series":"SRe/SRa ratio"},
{"hba1c":7.0,"val":0.76,"series":"SRe/SRa ratio"},{"hba1c":7.0,"val":0.44,"series":"SRe/SRa ratio"},{"hba1c":7.0,"val":0.34,"series":"SRe/SRa ratio"},
{"hba1c":7.1,"val":0.40,"series":"SRe/SRa ratio"},
{"hba1c":7.2,"val":0.71,"series":"SRe/SRa ratio"},{"hba1c":7.2,"val":0.61,"series":"SRe/SRa ratio"},{"hba1c":7.2,"val":0.47,"series":"SRe/SRa ratio"},{"hba1c":7.2,"val":0.34,"series":"SRe/SRa ratio"},{"hba1c":7.2,"val":0.11,"series":"SRe/SRa ratio"},
{"hba1c":7.3,"val":0.64,"series":"SRe/SRa ratio"},
{"hba1c":7.4,"val":0.74,"series":"SRe/SRa ratio"},{"hba1c":7.4,"val":0.58,"series":"SRe/SRa ratio"},{"hba1c":7.4,"val":0.43,"series":"SRe/SRa ratio"},
{"hba1c":7.5,"val":1.62,"series":"SRe/SRa ratio"},{"hba1c":7.5,"val":0.86,"series":"SRe/SRa ratio"},{"hba1c":7.5,"val":0.84,"series":"SRe/SRa ratio"},{"hba1c":7.5,"val":0.53,"series":"SRe/SRa ratio"},{"hba1c":7.5,"val":0.46,"series":"SRe/SRa ratio"},{"hba1c":7.5,"val":0.36,"series":"SRe/SRa ratio"},
{"hba1c":7.6,"val":1.05,"series":"SRe/SRa ratio"},{"hba1c":7.6,"val":0.42,"series":"SRe/SRa ratio"},
{"hba1c":7.7,"val":0.20,"series":"SRe/SRa ratio"},
{"hba1c":7.8,"val":0.86,"series":"SRe/SRa ratio"},
{"hba1c":8.0,"val":0.89,"series":"SRe/SRa ratio"},{"hba1c":8.0,"val":0.69,"series":"SRe/SRa ratio"},{"hba1c":8.0,"val":0.52,"series":"SRe/SRa ratio"},{"hba1c":8.0,"val":0.33,"series":"SRe/SRa ratio"},{"hba1c":8.0,"val":0.26,"series":"SRe/SRa ratio"},
{"hba1c":8.1,"val":0.41,"series":"SRe/SRa ratio"},
{"hba1c":8.3,"val":0.68,"series":"SRe/SRa ratio"},{"hba1c":8.3,"val":0.46,"series":"SRe/SRa ratio"},{"hba1c":8.3,"val":0.29,"series":"SRe/SRa ratio"},
{"hba1c":8.6,"val":0.40,"series":"SRe/SRa ratio"},
{"hba1c":9.0,"val":0.31,"series":"SRe/SRa ratio"},
{"hba1c":4.2,"val":0.85,"series":"Linear"},{"hba1c":9.0,"val":0.392,"series":"Linear"},
{"hba1c":4.2,"val":0.950,"series":"Quadratic"},{"hba1c":4.6,"val":0.874,"series":"Quadratic"},{"hba1c":5.0,"val":0.805,"series":"Quadratic"},{"hba1c":5.4,"val":0.742,"series":"Quadratic"},{"hba1c":5.8,"val":0.687,"series":"Quadratic"},{"hba1c":6.2,"val":0.640,"series":"Quadratic"},{"hba1c":6.6,"val":0.600,"series":"Quadratic"},{"hba1c":7.0,"val":0.567,"series":"Quadratic"},{"hba1c":7.4,"val":0.541,"series":"Quadratic"},{"hba1c":7.8,"val":0.522,"series":"Quadratic"},{"hba1c":8.2,"val":0.510,"series":"Quadratic"},{"hba1c":8.6,"val":0.505,"series":"Quadratic"},{"hba1c":9.0,"val":0.508,"series":"Quadratic"}
]
},
"vconcat": [
{
"width": 958, "height": 662,
"data": {"name": "a"},
"encoding": {
 "x": {"field": "hba1c", "type": "quantitative", "title": "HbA1c %", "scale": {"domain": [3.902, 9.092], "nice": false, "zero": false}, "axis": {"values": [4,5,6,7,8,9], "format": "d"}},
 "y": {"field": "val", "type": "quantitative", "title": "a", "scale": {"domain": [0.382, 3.069], "nice": false, "zero": false}, "axis": {"values": [0.5,1,1.5,2,2.5,3], "labelExpr": "datum.value == 0.5 ? '.5' : format(datum.value, '~g')", "titleX": -103, "titleY": 5}},
 "color": {"field": "series", "type": "nominal", "scale": {"domain": ["E/A ratio","Linear","Quadratic"], "range": ["#1A85FF","#D41159","#00BF7F"]},
  "legend": {"title": null, "orient": "none", "legendX": 1001, "legendY": 278, "padding": 0, "symbolSize": 90, "labelOffset": 36, "rowPadding": 10, "labelFont": "Liberation Sans", "labelFontSize": 28, "labelColor": "black", "labelLimit": 400,
   "encode": {"symbols": {"update": {
    "shape": {"signal": "datum.value == 'Linear' || datum.value == 'Quadratic' ? 'stroke' : 'circle'"},
    "size": {"signal": "datum.value == 'Linear' || datum.value == 'Quadratic' ? 4096 : 110"},
    "fill": {"signal": "datum.value == 'Linear' ? '#D41159' : datum.value == 'Quadratic' ? '#00BF7F' : '#1A85FF'"},
    "stroke": {"signal": "datum.value == 'Linear' ? '#D41159' : datum.value == 'Quadratic' ? '#00BF7F' : '#1A85FF'"},
    "strokeWidth": {"signal": "datum.value == 'Linear' || datum.value == 'Quadratic' ? 3 : 0"},
    "opacity": {"value": 1}, "fillOpacity": {"value": 1}, "strokeOpacity": {"value": 1}}}}}}
},
"layer": [
 {"transform": [{"filter": "datum.series == 'E/A ratio'"}], "mark": {"type": "point", "filled": true, "opacity": 1, "size": 110}},
 {"transform": [{"filter": "datum.series != 'E/A ratio'"}], "mark": {"type": "line", "strokeWidth": 3, "interpolate": "monotone"}}
]
},
{
"width": 967, "height": 664,
"data": {"name": "b"},
"encoding": {
 "x": {"field": "hba1c", "type": "quantitative", "title": "HbA1c %", "scale": {"domain": [3.903, 9.091], "nice": false, "zero": false}, "axis": {"values": [4,5,6,7,8,9], "format": "d"}},
 "y": {"field": "val", "type": "quantitative", "title": "b", "scale": {"domain": [-0.83, 31.56], "nice": false, "zero": false}, "axis": {"values": [0,10,20,30], "format": "d", "titleX": -103, "titleY": 6}},
 "color": {"field": "series", "type": "nominal", "scale": {"domain": ["Se","Linear","Quadratic"], "range": ["#1A85FF","#D41159","#00BF7F"]},
  "legend": {"title": null, "orient": "none", "legendX": 1016, "legendY": 282, "padding": 0, "symbolSize": 90, "labelOffset": 36, "rowPadding": 10, "labelFont": "Liberation Sans", "labelFontSize": 28, "labelColor": "black", "labelLimit": 400,
   "encode": {"symbols": {"update": {
    "shape": {"signal": "datum.value == 'Linear' || datum.value == 'Quadratic' ? 'stroke' : 'circle'"},
    "size": {"signal": "datum.value == 'Linear' || datum.value == 'Quadratic' ? 4096 : 110"},
    "fill": {"signal": "datum.value == 'Linear' ? '#D41159' : datum.value == 'Quadratic' ? '#00BF7F' : '#1A85FF'"},
    "stroke": {"signal": "datum.value == 'Linear' ? '#D41159' : datum.value == 'Quadratic' ? '#00BF7F' : '#1A85FF'"},
    "strokeWidth": {"signal": "datum.value == 'Linear' || datum.value == 'Quadratic' ? 3 : 0"},
    "opacity": {"value": 1}, "fillOpacity": {"value": 1}, "strokeOpacity": {"value": 1}}}}}}
},
"layer": [
 {"transform": [{"filter": "datum.series == 'Se'"}], "mark": {"type": "point", "filled": true, "opacity": 1, "size": 110}},
 {"transform": [{"filter": "datum.series != 'Se'"}], "mark": {"type": "line", "strokeWidth": 3, "interpolate": "monotone"}}
]
},
{
"width": 905, "height": 667,
"data": {"name": "c"},
"encoding": {
 "x": {"field": "hba1c", "type": "quantitative", "title": "HbA1c %", "scale": {"domain": [3.873, 9.092], "nice": false, "zero": false}, "axis": {"values": [4,5,6,7,8,9], "format": "d"}},
 "y": {"field": "val", "type": "quantitative", "title": "c", "scale": {"domain": [-0.067, 2.571], "nice": false, "zero": false}, "axis": {"values": [0,0.5,1,1.5,2,2.5], "labelExpr": "datum.value == 0.5 ? '.5' : format(datum.value, '~g')", "titleX": -103, "titleY": -45}},
 "color": {"field": "series", "type": "nominal", "scale": {"domain": ["SRe/SRa ratio","Linear","Quadratic"], "range": ["#1A85FF","#D41159","#00BF7F"]},
  "legend": {"title": null, "orient": "none", "legendX": 953, "legendY": 281, "padding": 0, "symbolSize": 90, "labelOffset": 36, "rowPadding": 10, "labelFont": "Liberation Sans", "labelFontSize": 28, "labelColor": "black", "labelLimit": 400,
   "encode": {"symbols": {"update": {
    "shape": {"signal": "datum.value == 'Linear' || datum.value == 'Quadratic' ? 'stroke' : 'circle'"},
    "size": {"signal": "datum.value == 'Linear' || datum.value == 'Quadratic' ? 4096 : 110"},
    "fill": {"signal": "datum.value == 'Linear' ? '#D41159' : datum.value == 'Quadratic' ? '#00BF7F' : '#1A85FF'"},
    "stroke": {"signal": "datum.value == 'Linear' ? '#D41159' : datum.value == 'Quadratic' ? '#00BF7F' : '#1A85FF'"},
    "strokeWidth": {"signal": "datum.value == 'Linear' || datum.value == 'Quadratic' ? 3 : 0"},
    "opacity": {"value": 1}, "fillOpacity": {"value": 1}, "strokeOpacity": {"value": 1}}}}}}
},
"layer": [
 {"transform": [{"filter": "datum.series == 'SRe/SRa ratio'"}], "mark": {"type": "point", "filled": true, "opacity": 1, "size": 110}},
 {"transform": [{"filter": "datum.series != 'SRe/SRa ratio'"}], "mark": {"type": "line", "strokeWidth": 3, "interpolate": "monotone"}}
]
}
],
"resolve": {"scale": {"color": "independent", "x": "independent", "y": "independent"}, "legend": {"color": "independent"}},
"config": {
 "view": {"stroke": null},
 "font": "Liberation Sans",
 "axis": {"domainColor": "black", "domainWidth": 2, "tickColor": "black", "tickWidth": 2, "tickSize": 11, "labelFont": "Liberation Sans", "labelFontSize": 28, "labelColor": "black", "titleFont": "Liberation Sans", "titleFontSize": 28, "titleFontWeight": "normal", "titleColor": "black", "gridColor": "#ebebeb", "gridWidth": 3, "gridDash": [17, 8]},
 "axisY": {"labelPadding": 6, "titleFont": "Liberation Serif", "titleFontSize": 54, "titleFontWeight": "bold", "titleAngle": 0, "titleAlign": "left", "titleBaseline": "alphabetic"},
 "axisX": {"labelPadding": 11, "titlePadding": 3}
}
}
